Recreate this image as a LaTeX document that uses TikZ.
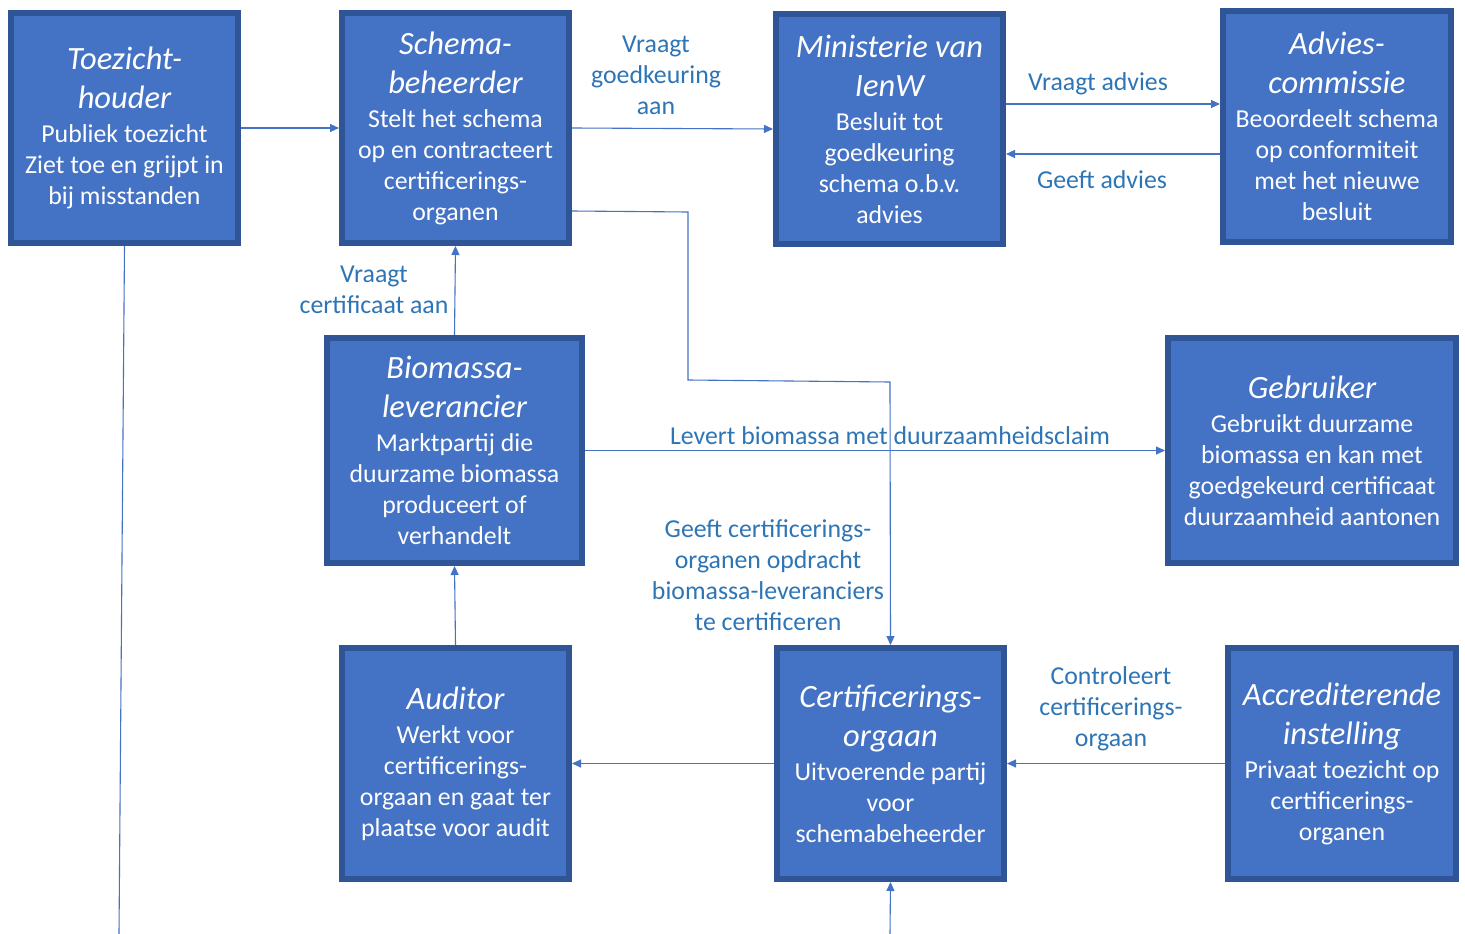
\documentclass[tikz,border=0pt]{standalone}
\usepackage{fontspec}
\setmainfont{Carlito}
\usetikzlibrary{arrows.meta}
\definecolor{boxfill}{HTML}{4472C4}
\definecolor{boxline}{HTML}{2F5597}
\definecolor{linkc}{HTML}{4472C4}
\definecolor{labc}{HTML}{2E75B6}
\newcommand\ttl{\fontsize{32.5}{39}\selectfont\itshape}
\newcommand\bdy{\fontsize{25.8}{31}\selectfont\upshape}
\tikzset{
  actor/.style={draw=boxline, line width=6pt, fill=boxfill, text=white, align=center,
    inner sep=0pt, minimum width=227pt, minimum height=230pt, font=\bdy},
  arr/.style={draw=linkc, line width=1.1pt, -{Triangle[length=9pt,width=8pt]}},
  ln/.style={draw=linkc, line width=1.1pt},
  lab/.style={text=labc, align=center, font=\bdy, inner sep=0pt}
}
\begin{document}
\begin{tikzpicture}[x=1pt,y=-1pt]
\useasboundingbox[fill=white] (0,0) rectangle (1465,934);
% boxes
\node[actor] (toe) at (124.5,128) {\ttl Toezicht-\\[8pt]\ttl houder\\[3pt]Publiek toezicht\\Ziet toe en grijpt in\\bij misstanden};
\node[actor] (sch) at (455.5,128) {\ttl Schema-\\[8pt]\ttl beheerder\\[3pt]Stelt het schema\\op en contracteert\\certificerings-\\organen};
\node[actor] (min) at (889.5,129) {\ttl Ministerie van\\[8pt]\ttl IenW\\[3pt]Besluit tot\\goedkeuring\\schema o.b.v.\\advies};
\node[actor, minimum width=228pt, minimum height=231pt] (adv) at (1337,126.5) {\ttl Advies-\\[8pt]\ttl commissie\\[3pt]Beoordeelt schema\\op conformiteit\\met het nieuwe\\besluit};
\node[actor, minimum width=255pt, minimum height=225pt] (bio) at (454.5,450.5) {\ttl Biomassa-\\[8pt]\ttl leverancier\\[3pt]Marktpartij die\\duurzame biomassa\\produceert of\\verhandelt};
\node[actor, minimum width=288pt, minimum height=225pt] (geb) at (1312,450.5) {\ttl Gebruiker\\[3pt]Gebruikt duurzame\\biomassa en kan met\\goedgekeurd certificaat\\duurzaamheid aantonen};
\node[actor, minimum height=231pt] (aud) at (455.5,763.5) {\ttl Auditor\\[3pt]Werkt voor\\certificerings-\\orgaan en gaat ter\\plaatse voor audit};
\node[actor, minimum height=231pt] (cert) at (890.5,763.5) {\ttl Certificerings-\\[8pt]\ttl orgaan\\[3pt]Uitvoerende partij\\voor\\schemabeheerder};
\node[actor, minimum width=228pt, minimum height=231pt] (acc) at (1342,763.5) {\ttl Accrediterende\\[8pt]\ttl instelling\\[3pt]Privaat toezicht op\\certificerings-\\organen};
% free ends
\coordinate (toeend) at (119,934);
\coordinate (certin) at (890,934);
% connectors
\draw[arr] (toe.east) -- (sch.west);
\draw[ln] (toe.south) -- (toeend);
\draw[arr] (sch.east) -- (min.west);
\draw[arr] ([yshift=25pt]min.east) -- ([yshift=22.5pt]adv.west);
\draw[arr] ([yshift=-27.5pt]adv.west) -- ([yshift=-25pt]min.east);
\draw[arr] ([yshift=-83pt]sch.east) -- (688,212) -- (688,380) -- (890,382) -- (cert.north);
\draw[arr] (bio.north) -- (sch.south);
\draw[arr] (bio.east) -- (geb.west);
\draw[arr] (aud.north) -- (bio.south);
\draw[arr] (cert.west) -- (aud.east);
\draw[arr] (acc.west) -- (cert.east);
\draw[arr] (certin) -- (cert.south);
% labels
\node[lab] (l1) at (656,75) {Vraagt\\goedkeuring\\aan};
\node[lab] (l2) at (1098,84) {Vraagt advies};
\node[lab] (l3) at (1102,180) {Geeft advies};
\node[lab] (l4) at (374,290) {Vraagt\\certificaat aan};
\node[lab] (l5) at (890,436) {Levert biomassa met duurzaamheidsclaim};
\node[lab] (l6) at (768,575) {Geeft certificerings-\\organen opdracht\\biomassa-leveranciers\\te certificeren};
\node[lab] (l7) at (1111,709) {Controleert\\certificerings-\\orgaan};
\end{tikzpicture}
\end{document}
